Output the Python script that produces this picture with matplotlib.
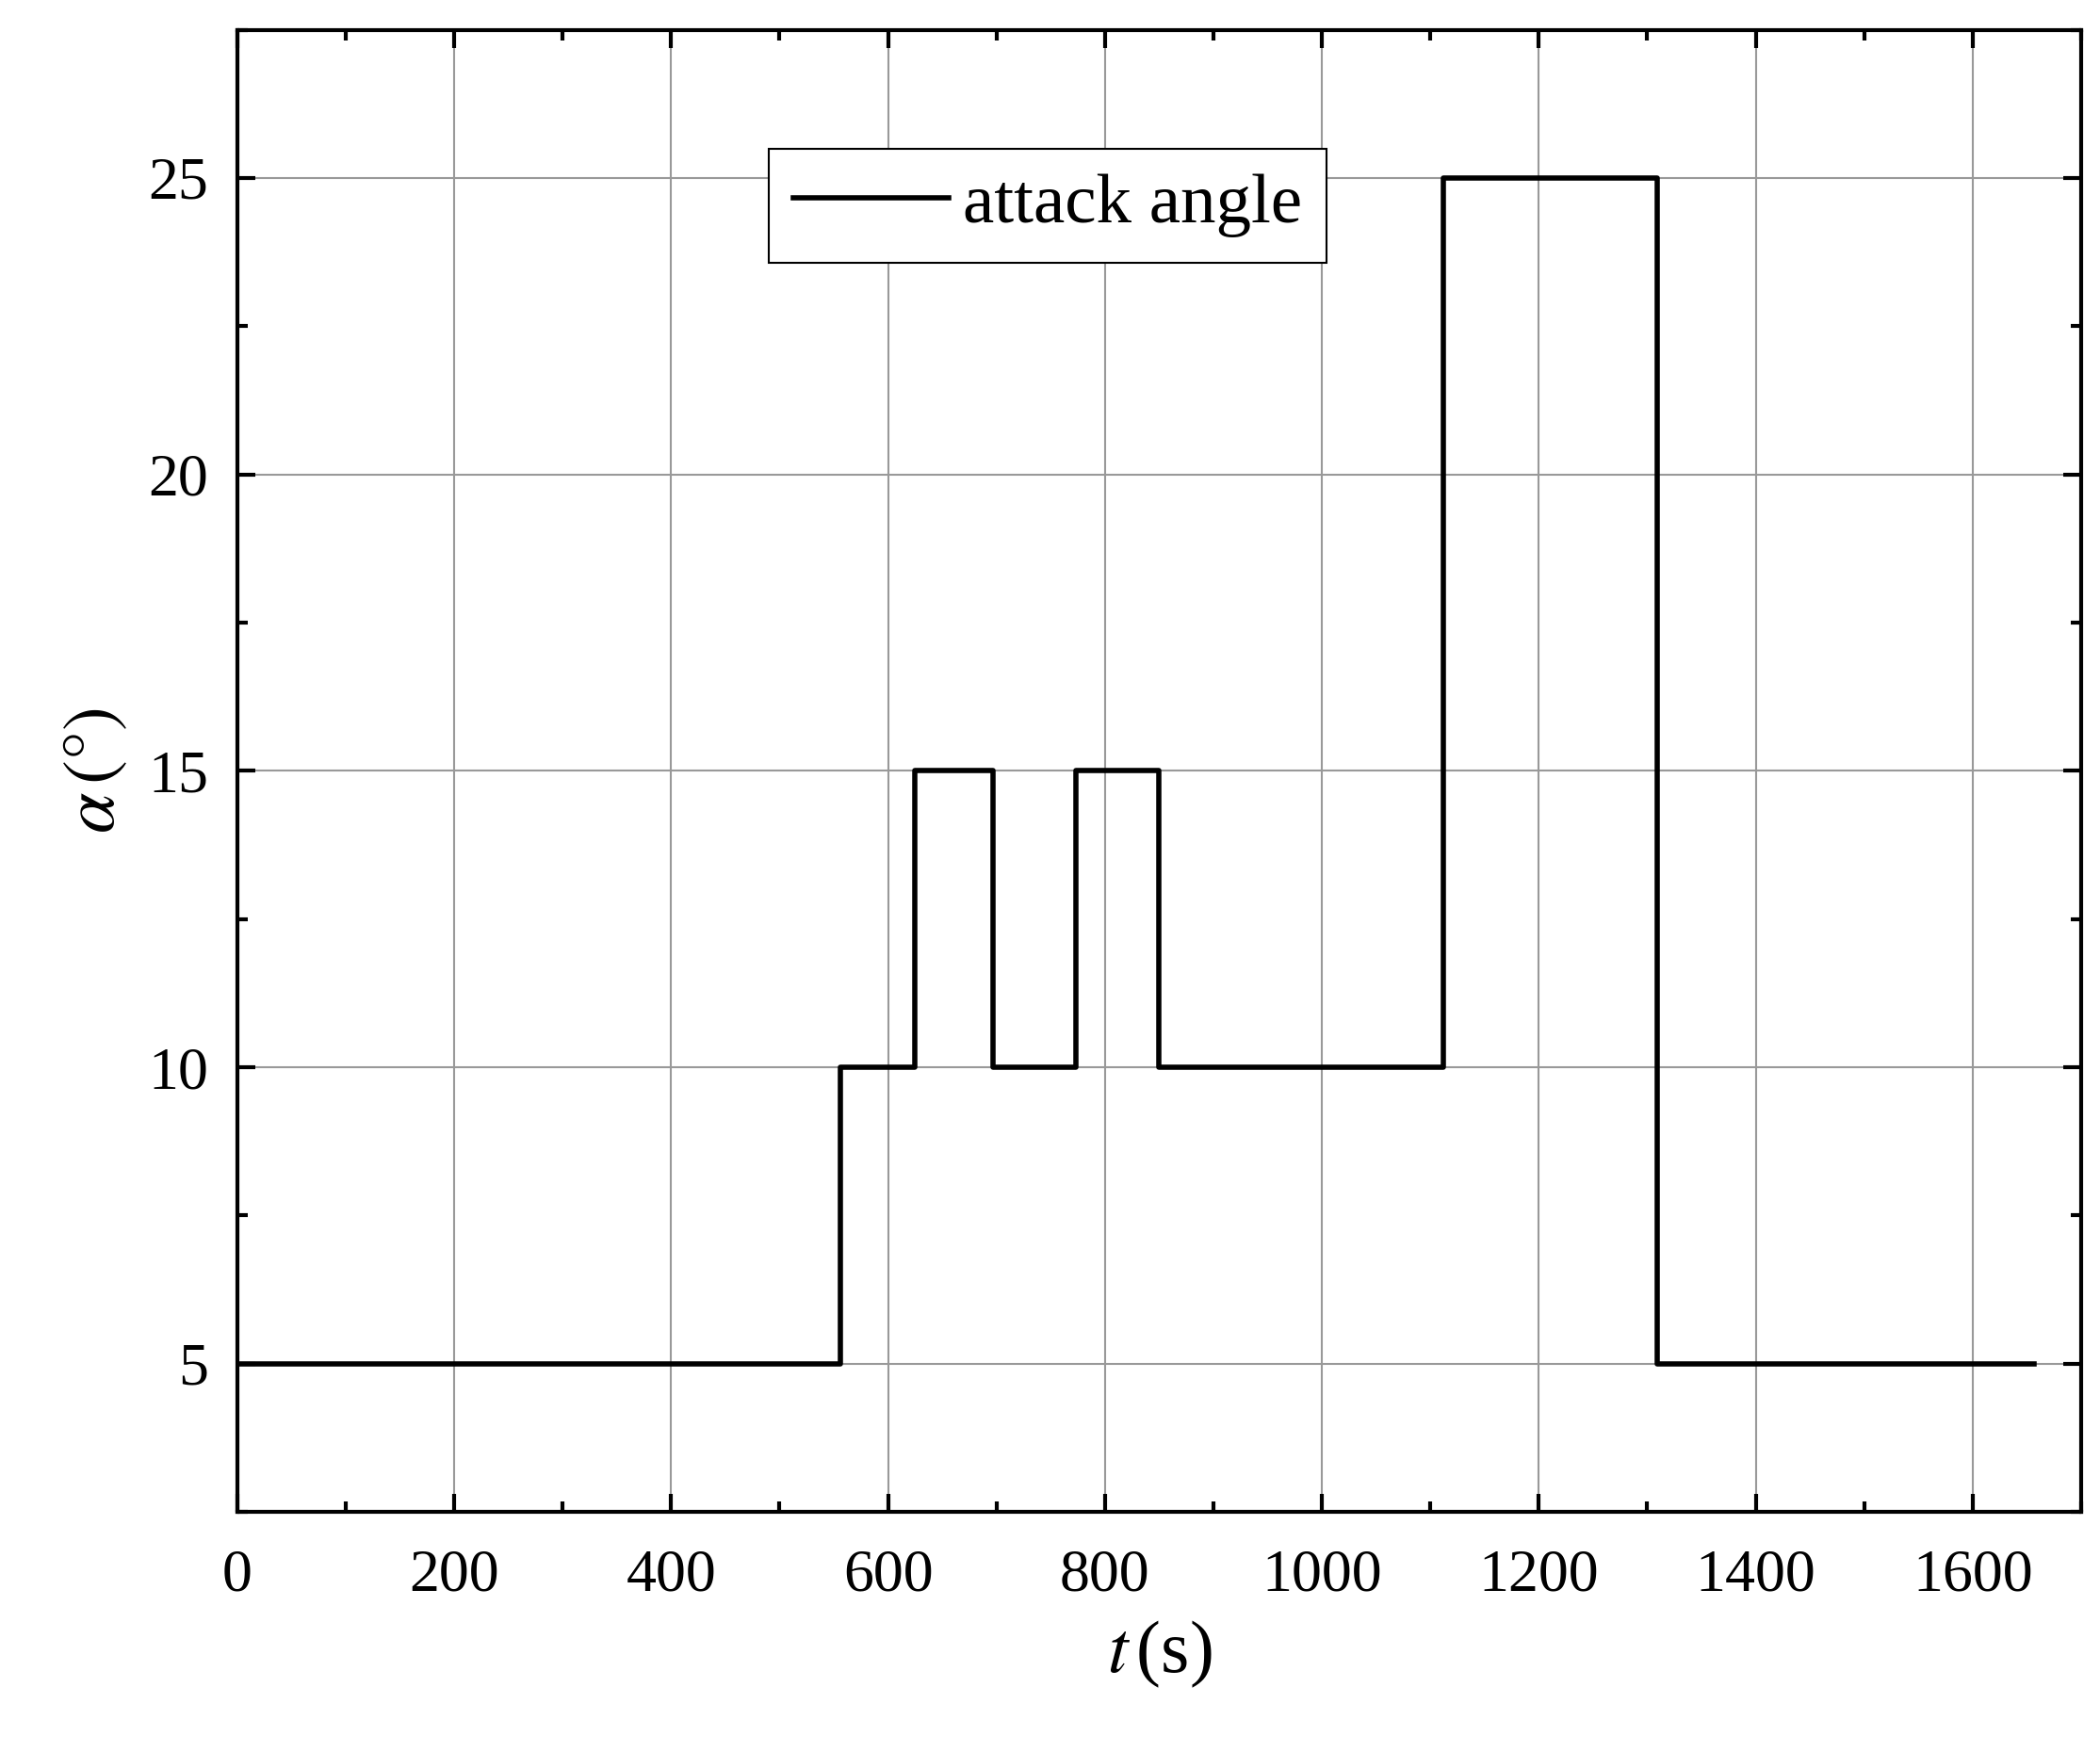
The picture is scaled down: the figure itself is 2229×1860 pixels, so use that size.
import matplotlib
matplotlib.use("Agg")
import matplotlib.pyplot as plt
from matplotlib.ticker import MultipleLocator

plt.rcParams['font.family'] = ['Liberation Serif', 'DejaVu Serif']
plt.rcParams['mathtext.fontset'] = 'stix'

# step edges (s) and attack angle (deg) after each edge
t_edges = [0, 556, 625, 697, 773, 850, 1112, 1309, 1657]
alpha = [5, 10, 15, 10, 15, 10, 25, 5, 5]

fig = plt.figure(figsize=(22.29, 18.6), dpi=100)
ax = fig.add_axes([0.113, 0.137, 0.878, 0.846])
ax.step(t_edges, alpha, where='post', color='black', lw=4, label='attack angle')

ax.set_xlim(0, 1700)
ax.set_ylim(2.5, 27.5)
ax.xaxis.set_major_locator(MultipleLocator(200))
ax.xaxis.set_minor_locator(MultipleLocator(100))
ax.yaxis.set_major_locator(MultipleLocator(5))
ax.yaxis.set_minor_locator(MultipleLocator(2.5))
ax.grid(True, which='major', color='#999999', lw=1.5)
ax.tick_params(which='both', direction='in', top=True, right=True, labelsize=46, width=3)
ax.tick_params(which='major', length=14)
ax.tick_params(which='minor', length=8)
ax.tick_params(axis='x', pad=28)
ax.tick_params(axis='y', pad=22)
for s in ax.spines.values():
    s.set_linewidth(3)

ax.set_xlabel(r'$t\,$(s)', fontsize=56, labelpad=12)
ax.set_ylabel(r'$\alpha\,(\degree)$', fontsize=56, labelpad=14)

leg = ax.legend(loc='upper left', bbox_to_anchor=(0.288, 0.92), fontsize=54,
                fancybox=False, edgecolor='black', framealpha=1,
                handlelength=2.2, borderpad=0.35, handletextpad=0.2,
                borderaxespad=0)
leg.get_frame().set_linewidth(1.5)

fig.savefig('out.png', dpi=100)
